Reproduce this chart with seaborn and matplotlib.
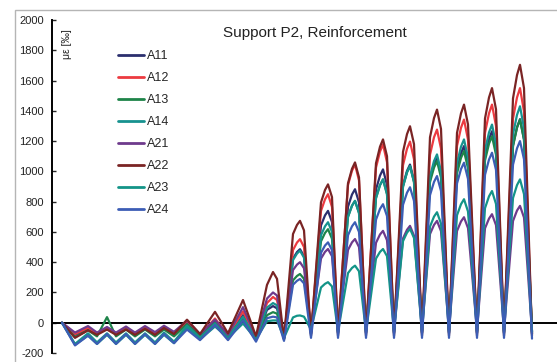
import numpy as np
import pandas as pd
import matplotlib
matplotlib.use("Agg")
import matplotlib.pyplot as plt
import seaborn as sns
from matplotlib.patches import Rectangle

sns.set_style("white")
plt.rcParams['font.family'] = ['Liberation Sans', 'DejaVu Sans']

# time axis (arbitrary units)
t = [62, 75, 88, 97, 107, 116, 126, 135, 145, 155, 164, 174, 187, 200, 215, 228, 243, 256, 267, 273, 277,
     284,
     293, 297, 300, 304, 311,
     321, 325, 328, 332, 338,
     348, 352, 355, 359, 366,
     376, 380, 383, 387, 394,
     403, 407, 410, 414, 422,
     430, 434, 437, 441, 449,
     457, 461, 464, 468, 477,
     485, 489, 492, 496, 504,
     513, 517, 520, 524, 532]

A11 = [0, -80, -40, -75, -40, -75, -40, -75, -38, -75, -35, -75, 0, -85, 10, -90, 50, -100, 85, 110, 95,
       -105,
       423, 467, 486, 440, -75,
       643, 709, 739, 665, -70,
       767, 847, 882, 795, -70,
       881, 972, 1013, 910, -70,
       909, 1003, 1045, 940, -70,
       948, 1046, 1090, 980, -70,
       1015, 1120, 1167, 1050, -70,
       1100, 1214, 1265, 1140, -70,
       1170, 1291, 1345, 1210, -75]
A12 = [0, -75, -35, -70, -35, -70, -35, -70, -30, -70, -28, -70, 10, -80, 28, -85, 75, -100, 130, 170, 150,
       -100,
       480, 530, 552, 500, -70,
       739, 815, 849, 765, -65,
       910, 1004, 1046, 940, -65,
       1025, 1131, 1178, 1060, -65,
       1041, 1149, 1197, 1080, -65,
       1110, 1225, 1276, 1150, -65,
       1168, 1288, 1342, 1210, -65,
       1254, 1383, 1441, 1300, -65,
       1349, 1488, 1550, 1395, -70]
A13 = [0, -95, -50, -90, 37, -90, -45, -90, -45, -90, -45, -90, -10, -90, 0, -90, 30, -105, 50, 70, 60,
       -105,
       280, 309, 322, 290, -60,
       538, 593, 618, 555, -55,
       700, 773, 805, 725, -55,
       824, 909, 947, 850, -55,
       900, 994, 1035, 930, -55,
       929, 1025, 1068, 960, -55,
       987, 1089, 1134, 1020, -55,
       1072, 1183, 1232, 1110, -55,
       1168, 1288, 1342, 1210, -60]
A14 = [0, -140, -70, -130, -70, -130, -70, -130, -70, -130, -65, -125, -20, -100, -5, -95, 40, -105, 100, 130, 115,
       -110,
       414, 457, 476, 430, -70,
       578, 637, 664, 600, -65,
       700, 773, 805, 725, -65,
       824, 909, 947, 850, -65,
       900, 994, 1035, 930, -65,
       967, 1068, 1112, 1000, -65,
       1054, 1163, 1211, 1090, -65,
       1139, 1257, 1309, 1180, -65,
       1244, 1373, 1430, 1285, -70]
A21 = [0, -65, -22, -65, -28, -65, -25, -65, -22, -62, -20, -60, 15, -75, 20, -80, 103, -95, 160, 200, 180,
       -95,
       348, 384, 400, 360, -55,
       424, 468, 487, 440, -50,
       481, 531, 553, 500, -50,
       528, 583, 607, 545, -50,
       557, 614, 640, 575, -50,
       586, 646, 673, 605, -50,
       606, 669, 697, 625, -50,
       624, 688, 717, 645, -50,
       672, 741, 772, 695, -55]
A22 = [0, -100, -50, -80, -45, -80, -45, -80, -40, -80, -35, -75, 20, -75, 72, -70, 150, -90, 250, 335, 290,
       -110,
       586, 646, 673, 610, -85,
       795, 877, 914, 830, -85,
       921, 1017, 1059, 960, -85,
       1054, 1163, 1211, 1100, -85,
       1129, 1246, 1298, 1180, -85,
       1225, 1352, 1408, 1280, -85,
       1254, 1383, 1441, 1310, -85,
       1349, 1488, 1550, 1410, -85,
       1482, 1636, 1704, 1550, -85]
A23 = [0, -145, -85, -140, -80, -140, -80, -140, -80, -140, -80, -135, -30, -110, -25, -100, -5, -110, 10, 15, 15,
       -100,
       35, 46, 48, 40, -45,
       233, 257, 268, 240, -60,
       328, 362, 377, 340, -60,
       424, 468, 487, 440, -60,
       539, 595, 620, 560, -60,
       635, 701, 730, 655, -60,
       710, 783, 816, 735, -60,
       757, 835, 870, 785, -60,
       824, 909, 947, 850, -60]
A24 = [0, -150, -85, -140, -75, -140, -75, -140, -75, -140, -75, -135, -45, -115, -15, -115, 15, -125, 30, 40, 35,
       -120,
       251, 277, 289, 260, -100,
       462, 510, 531, 480, -100,
       578, 637, 664, 600, -100,
       681, 752, 783, 705, -100,
       779, 859, 895, 805, -100,
       843, 930, 969, 870, -100,
       920, 1015, 1057, 950, -100,
       977, 1078, 1123, 1010, -100,
       1044, 1152, 1200, 1080, -105]

names = ["A11", "A12", "A13", "A14", "A21", "A22", "A23", "A24"]
values = [A11, A12, A13, A14, A21, A22, A23, A24]
colors = ["#2B2F6E", "#EC3A40", "#1E8449", "#17928F", "#6E3A8C", "#7A2424", "#139488", "#3C5DB5"]
yticks = list(range(-200, 2001, 200))

df = pd.concat([pd.DataFrame({"t": t, "v": v, "series": n}) for n, v in zip(names, values)],
               ignore_index=True)

W, H = 557, 362
fig = plt.figure(figsize=(W / 100, H / 100), dpi=100)
ax = fig.add_axes([52 / W, 1 - 353 / H, 505 / W, 333 / H])

# outer frame of the figure (cropped on the right and bottom)
fig.patches.append(Rectangle((15 / W, -0.1), 1.2, 1 - 10 / H + 0.1, transform=fig.transFigure,
                             fill=False, edgecolor="#b5b5b5", lw=1.0))

ax.axhline(0, color="black", lw=1.4, zorder=1.5)
sns.lineplot(data=df, x="t", y="v", hue="series", palette=colors, estimator=None,
             lw=1.6, ax=ax, sort=False)

ax.set_xlim(52, 557)
ax.set_ylim(-200, 2000)
ax.set_yticks(yticks)
ax.set_yticklabels([str(v) for v in yticks], fontsize=8, color="#222222")
ax.set_xticks([])
ax.set_xlabel("")
ax.set_ylabel("")
for s in ["top", "right", "bottom"]:
    ax.spines[s].set_visible(False)
ax.spines["left"].set_color("black")
ax.spines["left"].set_linewidth(1.4)
ax.tick_params(axis="y", direction="in", length=3, width=1, pad=6, left=True)
ax.patch.set_alpha(0)

h, l = ax.get_legend_handles_labels()
leg = ax.legend(h, l, loc="upper left", bbox_to_anchor=(118 / W, 1 - 50 / H),
                bbox_transform=fig.transFigure, frameon=False, fontsize=9,
                handlelength=2.1, labelspacing=0.8, handletextpad=0.2,
                borderpad=0, borderaxespad=0)
for line in leg.get_lines():
    line.set_linewidth(2.0)

fig.text(315 / W, 1 - 33 / H, "Support P2, Reinforcement", ha="center", va="center",
         fontsize=11, color="#222222")
fig.text(67 / W, 1 - 44 / H, "με [‰]", rotation=90, ha="center", va="center",
         fontsize=7.5, color="#222222")

fig.savefig("out.png", dpi=100)
